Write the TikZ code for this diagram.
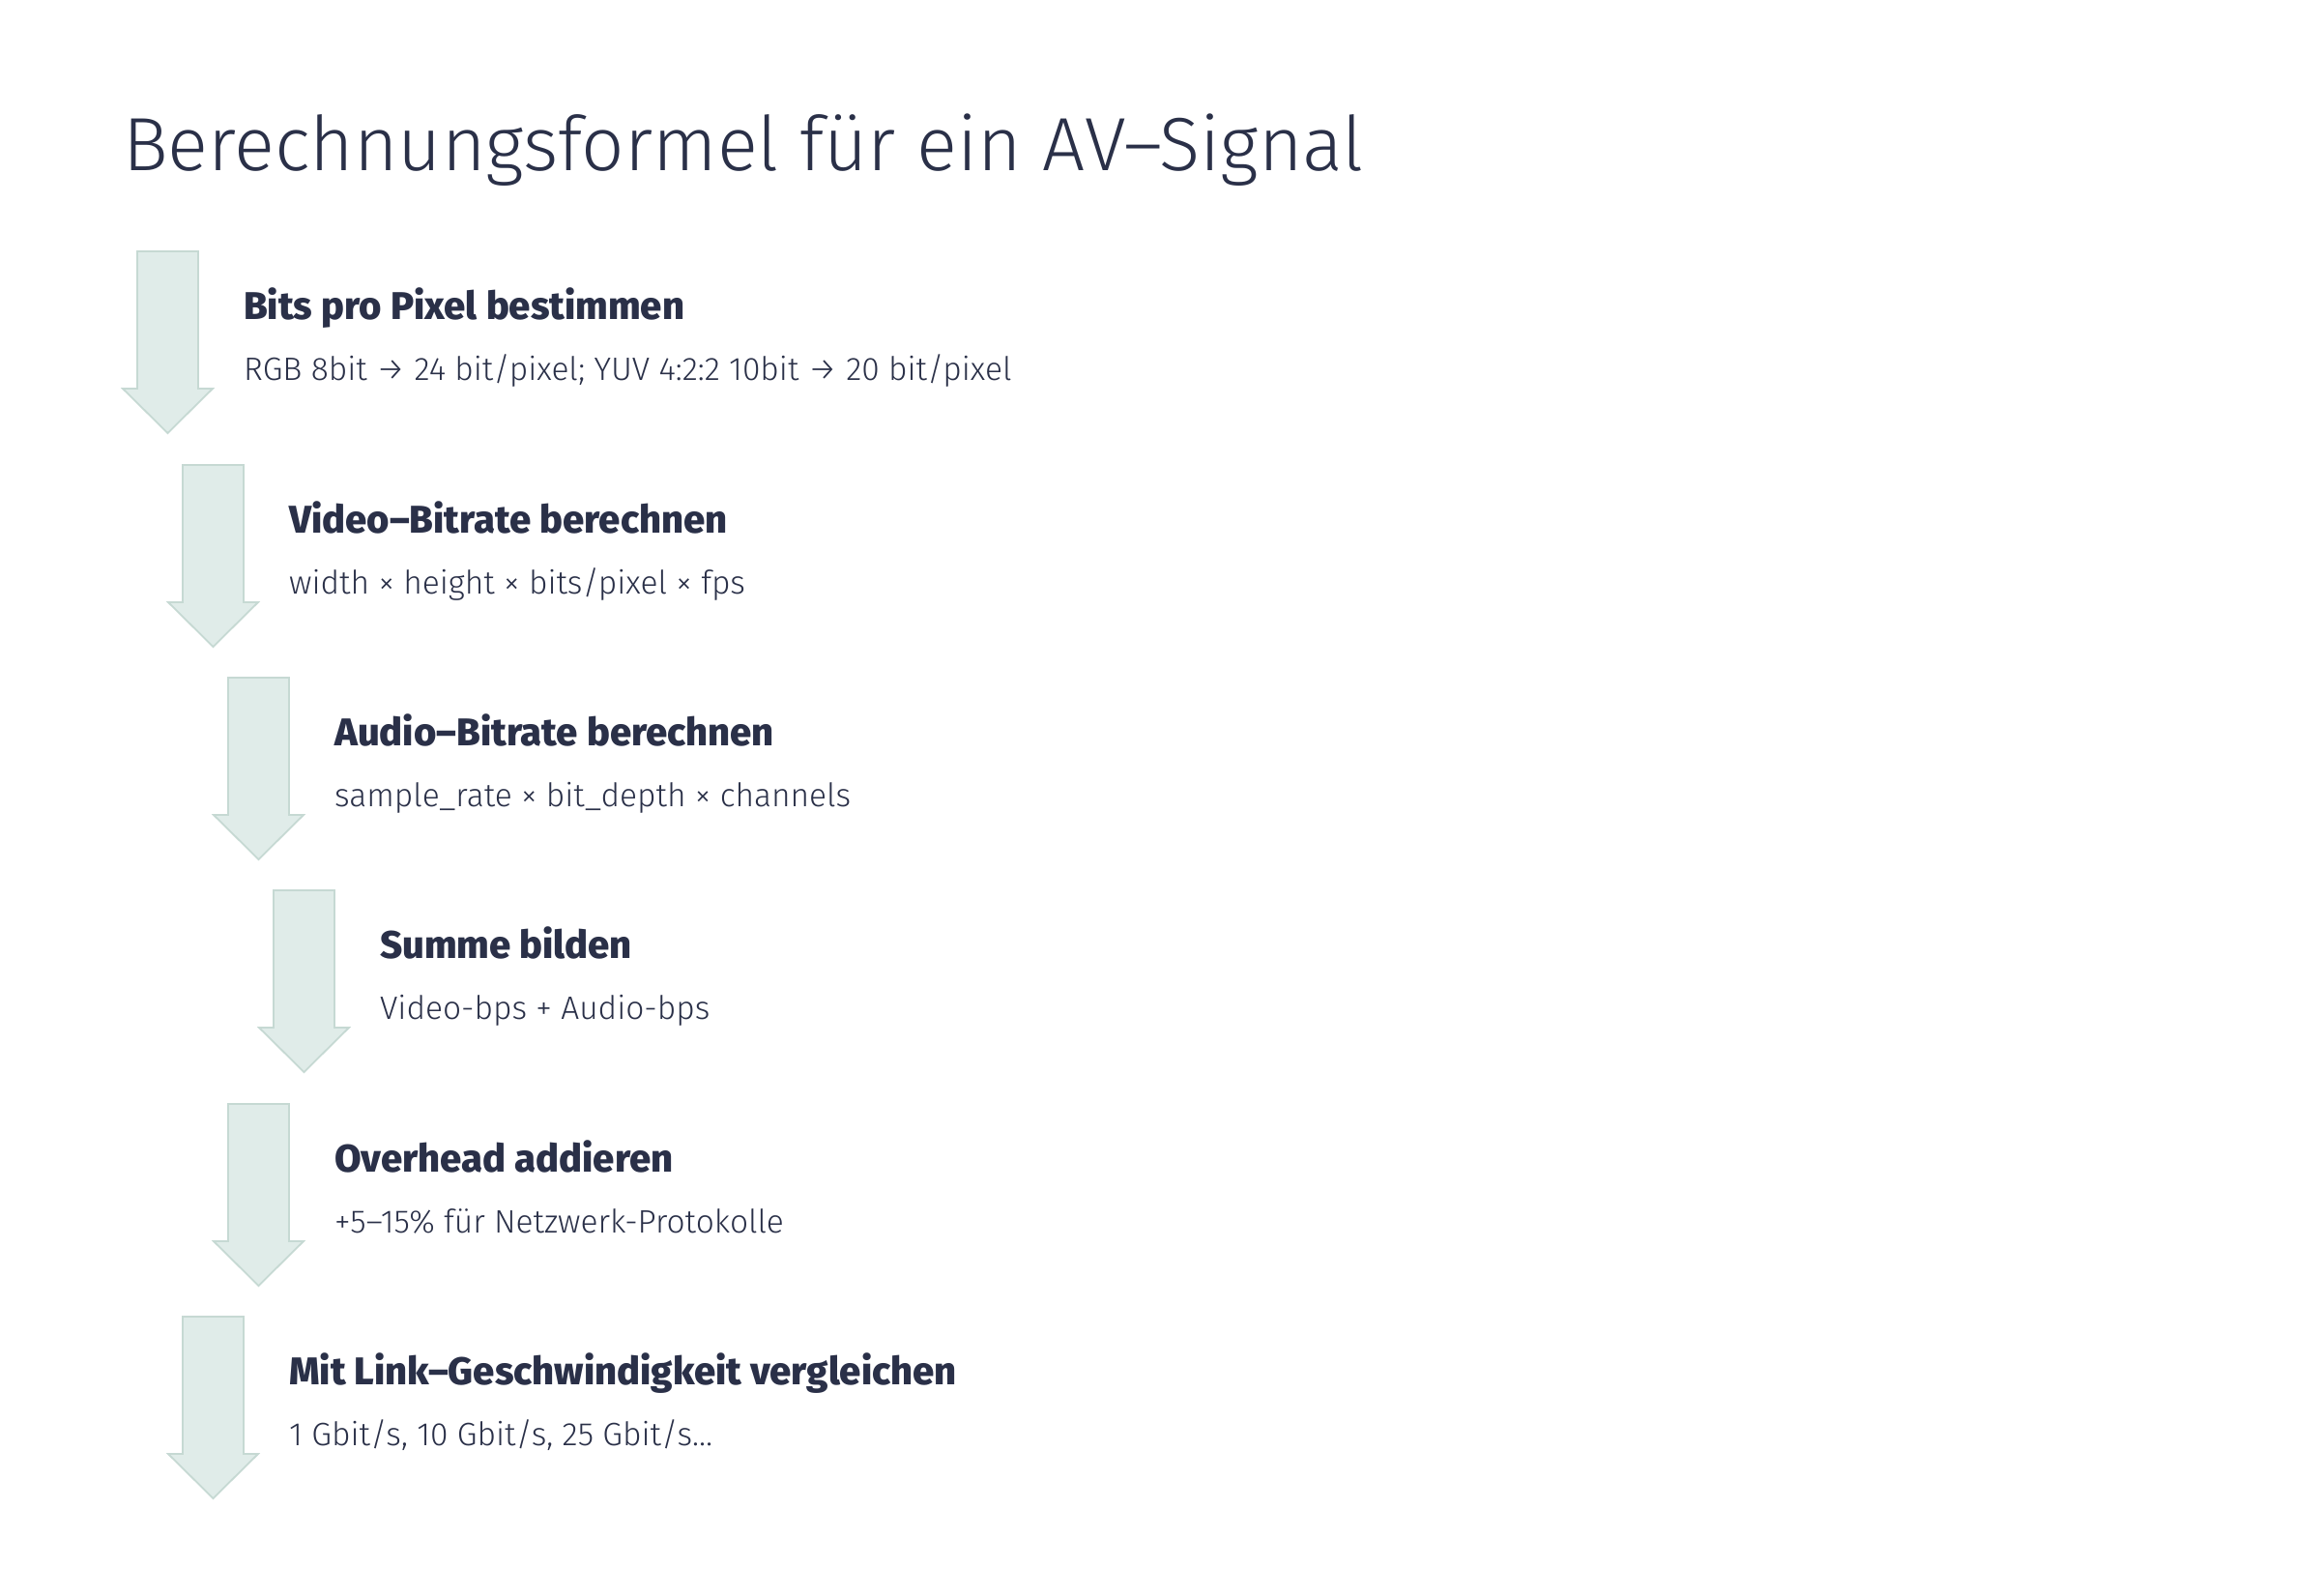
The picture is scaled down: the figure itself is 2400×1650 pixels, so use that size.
\documentclass[tikz,border=0pt]{standalone}
\usepackage{fontspec}
\setmainfont{Fira Sans}
\newfontfamily\lightfont{Fira Sans Light}
\newfontfamily\heavyfont{Fira Sans ExtraBold}
\definecolor{ink}{HTML}{2A3048}
\definecolor{arrowfill}{HTML}{E0ECE9}
\definecolor{arrowline}{HTML}{C6D9D3}
\tikzset{
  arrowshape/.style={fill=arrowfill, draw=arrowline, line width=1.8pt, line join=miter},
  downarrow/.pic={\path[arrowshape] (0,0) -- (63,0) -- (63,142) -- (78,142) -- (31.5,188) -- (-15,142) -- (0,142) -- cycle;},
  steptitle/.style={anchor=base west, inner sep=0pt, text=ink, font=\heavyfont\fontsize{40}{46}\selectfont},
  stepbody/.style={anchor=base west, inner sep=0pt, text=ink, font=\lightfont\fontsize{33.5}{40}\selectfont},
  maintitle/.style={anchor=base west, inner sep=0pt, text=ink, font=\lightfont\fontsize{78}{86}\selectfont}
}
\begin{document}
\begin{tikzpicture}[x=1pt,y=-1pt]
\useasboundingbox (0,0) rectangle (2400,1650);
\fill[white] (0,0) rectangle (2400,1650);
\node[maintitle] (title) at (127,176) {Berechnungsformel für ein AV–Signal};

\pic (a1) at (142,260) {downarrow};
\pic (a2) at (189,481) {downarrow};
\pic (a3) at (236,701) {downarrow};
\pic (a4) at (283,921) {downarrow};
\pic (a5) at (236,1142) {downarrow};
\pic (a6) at (189,1362) {downarrow};

\node[steptitle] (h1) at (252,330) {Bits pro Pixel bestimmen};
\node[stepbody]  (b1) at (252,393) {RGB 8bit → 24 bit/pixel; YUV 4:2:2 10bit → 20 bit/pixel};
\node[steptitle] (h2) at (299,551) {Video–Bitrate berechnen};
\node[stepbody]  (b2) at (299,614) {width × height × bits/pixel × fps};
\node[steptitle] (h3) at (346,771) {Audio–Bitrate berechnen};
\node[stepbody]  (b3) at (346,834) {sample\_rate × bit\_depth × channels};
\node[steptitle] (h4) at (393,991) {Summe bilden};
\node[stepbody]  (b4) at (393,1054) {Video-bps + Audio-bps};
\node[steptitle] (h5) at (346,1212) {Overhead addieren};
\node[stepbody]  (b5) at (346,1275) {+5–15\% für Netzwerk-Protokolle};
\node[steptitle] (h6) at (299,1432) {Mit Link–Geschwindigkeit vergleichen};
\node[stepbody]  (b6) at (299,1495) {1 Gbit/s, 10 Gbit/s, 25 Gbit/s…};
\end{tikzpicture}
\end{document}
